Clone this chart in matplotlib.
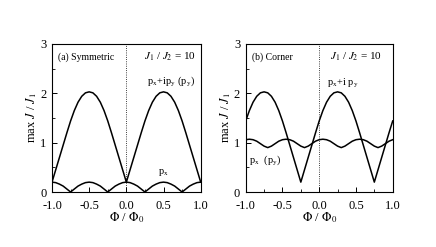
import matplotlib
matplotlib.use("Agg")
import matplotlib.pyplot as plt
import numpy as np
from matplotlib.ticker import MultipleLocator

plt.rcParams['font.family'] = ['Liberation Serif', 'DejaVu Serif']
plt.rcParams['mathtext.fontset'] = 'stix'

# flux axis, shared by all curves
phi = np.round(np.arange(-1.0, 1.0001, 0.05), 2)

# (a) symmetric junction
sym_pxipy = [0.2, 0.45, 0.7, 0.95, 1.2, 1.44, 1.65, 1.82, 1.94, 2.01, 2.03,
             2.01, 1.94, 1.82, 1.65, 1.44, 1.2, 0.95, 0.7, 0.45, 0.2,
             0.45, 0.7, 0.95, 1.2, 1.44, 1.65, 1.82, 1.94, 2.01, 2.03,
             2.01, 1.94, 1.82, 1.65, 1.44, 1.2, 0.95, 0.7, 0.45, 0.2]
sym_px = [0.2, 0.19, 0.16, 0.12, 0.06, 0.0, 0.06, 0.12, 0.16, 0.19, 0.2,
          0.19, 0.16, 0.12, 0.06, 0.0, 0.06, 0.12, 0.16, 0.19, 0.2,
          0.19, 0.16, 0.12, 0.06, 0.0, 0.06, 0.12, 0.16, 0.19, 0.2,
          0.19, 0.16, 0.12, 0.06, 0.0, 0.06, 0.12, 0.16, 0.19, 0.2]

# (b) corner junction
cor_pxipy = [1.44, 1.65, 1.82, 1.94, 2.01, 2.03, 2.01, 1.94, 1.82, 1.65, 1.44,
             1.2, 0.95, 0.7, 0.45, 0.2, 0.45, 0.7, 0.95, 1.2, 1.44,
             1.65, 1.82, 1.94, 2.01, 2.03, 2.01, 1.94, 1.82, 1.65, 1.44,
             1.2, 0.95, 0.7, 0.45, 0.2, 0.45, 0.7, 0.95, 1.2, 1.44]
cor_px = [1.06, 1.07, 1.06, 1.03, 0.98, 0.93, 0.90, 0.93, 0.98, 1.03, 1.06,
          1.07, 1.06, 1.03, 0.98, 0.93, 0.90, 0.93, 0.98, 1.03, 1.06,
          1.07, 1.06, 1.03, 0.98, 0.93, 0.90, 0.93, 0.98, 1.03, 1.06,
          1.07, 1.06, 1.03, 0.98, 0.93, 0.90, 0.93, 0.98, 1.03, 1.06]

fig = plt.figure(figsize=(4.36, 2.47), dpi=100)
ax1 = fig.add_axes([52/436, 1 - 192/247, 148.7/436, 148/247])
ax2 = fig.add_axes([245.7/436, 1 - 192/247, 147/436, 148/247])

for ax in (ax1, ax2):
    ax.set_xlim(-1.0, 1.0)
    ax.set_ylim(0, 3)
    ax.axvline(0, color='black', lw=0.6, ls=':')
    ax.xaxis.set_minor_locator(MultipleLocator(0.25))
    ax.yaxis.set_major_locator(MultipleLocator(1))
    ax.yaxis.set_minor_locator(MultipleLocator(0.5))
    ax.set_xticks([-1.0, -0.5, 0.0, 0.5, 1.0])
    ax.set_xticklabels(['-1.0', '-0.5', '0.0', '0.5', '1.0'])
    ax.tick_params(which='both', direction='in', labelsize=9)
    ax.tick_params(axis='x', pad=5.5)
    ax.tick_params(axis='y', pad=4)
    ax.tick_params(which='major', length=3.5, width=0.7)
    ax.tick_params(which='minor', length=2, width=0.6)
    for s in ax.spines.values():
        s.set_linewidth(0.8)
    ax.set_xlabel(r'$\Phi$ / $\Phi_0$', fontsize=9, labelpad=-1)
    ax.set_ylabel(r'max $J$ / $J_1$', fontsize=9, labelpad=1)

ax1.plot(phi, sym_pxipy, color='black', lw=1.1)
ax1.plot(phi, sym_px, color='black', lw=1.1)
ax1.text(-0.92, 2.74, '(a) Symmetric', fontsize=7, va='center')
ax1.text(0.93, 2.74, r'$J_1$ / $J_2$ = 10', fontsize=8, va='center', ha='right')
ax1.text(0.93, 2.24, r'p$_{\rm x}$+ip$_{\rm y}$ (p$_{\rm y}$)', fontsize=7.5, va='center', ha='right')
ax1.text(0.5, 0.4, r'p$_{\rm x}$', fontsize=7.5, va='center', ha='center')

ax2.plot(phi, cor_pxipy, color='black', lw=1.1)
ax2.plot(phi, cor_px, color='black', lw=1.1)
ax2.text(-0.92, 2.74, '(b) Corner', fontsize=7, va='center')
ax2.text(0.85, 2.74, r'$J_1$ / $J_2$ = 10', fontsize=8, va='center', ha='right')
ax2.text(0.1, 2.2, r'p$_{\rm x}$+i p$_{\rm y}$', fontsize=7.5, va='center')
ax2.text(-0.95, 0.65, r'p$_{\rm x}$  (p$_{\rm y}$)', fontsize=7.5, va='center')

fig.savefig('out.png', dpi=100)
